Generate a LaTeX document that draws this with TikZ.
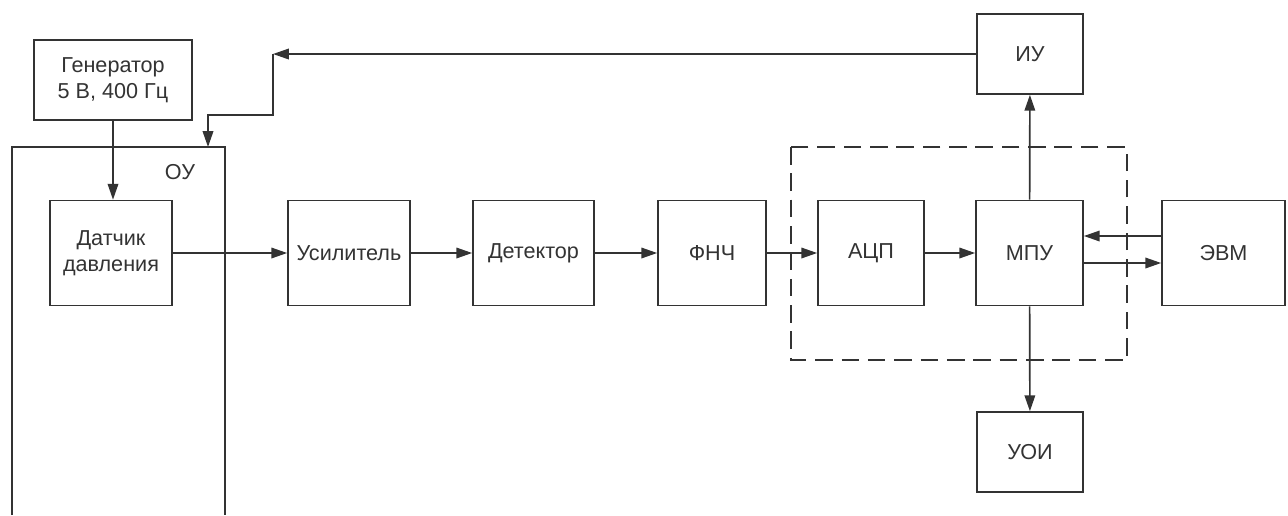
\documentclass[tikz,border=0pt]{standalone}
\usepackage{fontspec}
\setmainfont{Liberation Sans}
\usetikzlibrary{arrows.meta}

\begin{document}
\begin{tikzpicture}[x=0.02cm,y=-0.02cm,line width=0.95pt,color=black!80,
  blk/.style={draw,minimum width=2.44cm,minimum height=2.1cm,align=center,
    font=\fontsize{12.3}{15}\selectfont},
  pil/.style={-{Triangle[length=9pt,width=6pt]}}]
\useasboundingbox (0,0) rectangle (1288,515);
% object frame
\draw[line width=1.2pt] (12,515)--(12,147)--(225,147)--(225,515);
\node[font=\fontsize{12.3}{15}\selectfont] (ou) at (180,172) {ОУ};
\coordinate (ouTop) at (208,147);
% blocks
\node[blk,minimum width=3.16cm,minimum height=1.6cm] (gen) at (113,80) {Генератор\\5 В, 400 Гц};
\node[blk] (dat) at (111,253) {Датчик\\давления};
\node[blk] (usil) at (349,253) {Усилитель};
\node[blk,minimum width=2.42cm] (det) at (533.5,253) {Детектор};
\node[blk,minimum width=2.16cm] (fnch) at (712,253) {ФНЧ};
\node[blk,minimum width=2.12cm] (acp) at (871,253) {АЦП};
\node[blk,minimum width=2.14cm] (mpu) at (1029.5,253) {МПУ};
\node[blk,minimum width=2.46cm] (evm) at (1223.5,253) {ЭВМ};
\node[blk,minimum width=2.12cm,minimum height=1.6cm] (iu) at (1030,54) {ИУ};
\node[blk,minimum width=2.12cm,minimum height=1.6cm] (uoi) at (1030,452) {УОИ};
% controller
\draw[dashed,dash pattern=on 10pt off 5pt] (791,147) rectangle (1127,360);
% links
\draw[pil] (gen) -- (gen |- dat.north);
\draw[pil] (dat) -- (usil);
\draw[pil] (usil) -- (det);
\draw[pil] (det) -- (fnch);
\draw[pil] (fnch) -- (acp);
\draw[pil] (acp) -- (mpu);
\draw[pil] (mpu) -- (iu);
\draw[pil] (mpu) -- (uoi);
\draw[pil] ([yshift=0.34cm]evm.west) -- ([yshift=0.34cm]mpu.east);
\draw[pil] ([yshift=-0.2cm]mpu.east) -- ([yshift=-0.2cm]evm.west);
\coordinate (fb) at (273,54);
\draw[pil] (iu.west) -- (fb);
\draw[pil] (fb) -- (273,115) -- (208,115) -- (ouTop);
\end{tikzpicture}
\end{document}
